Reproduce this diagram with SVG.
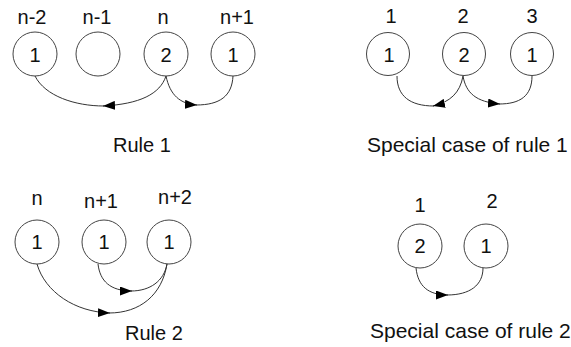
<svg xmlns="http://www.w3.org/2000/svg" width="571" height="347" viewBox="0 0 571 347">
<style>
  .node { fill: #ffffff; stroke: #444444; stroke-width: 1; }
  .t { font-family: "Liberation Sans", Arial, sans-serif; font-size: 20px; fill: #111111; text-anchor: middle; }
  .title { font-family: "Liberation Sans", Arial, sans-serif; font-size: 20px; fill: #111111; }
  .edge { fill: none; stroke: #333333; stroke-width: 1; }
</style>
<defs>
  <marker id="arrow" markerUnits="userSpaceOnUse" markerWidth="13" markerHeight="9" refX="12" refY="4.5" orient="auto">
    <path d="M0,0 L12,4.5 L0,9 z" fill="#000000"/>
  </marker>
</defs>
<rect width="571" height="347" fill="#ffffff"/>

<!-- Rule 1 -->
<g id="r1-n-2"><text class="t" x="32" y="24">n-2</text><circle class="node" cx="35" cy="54" r="22"/><text class="t" x="35" y="62">1</text></g>
<g id="r1-n-1"><text class="t" x="97" y="24">n-1</text><circle class="node" cx="98" cy="54" r="22"/></g>
<g id="r1-n"><text class="t" x="163" y="24">n</text><circle class="node" cx="166" cy="54" r="22"/><text class="t" x="166" y="62">2</text></g>
<g id="r1-n+1"><text class="t" x="237" y="24">n+1</text><circle class="node" cx="233" cy="54" r="22"/><text class="t" x="233" y="62">1</text></g>

<!-- Special case of rule 1 -->
<g id="s1-1"><text class="t" x="391" y="23">1</text><circle class="node" cx="388" cy="54" r="21.5"/><text class="t" x="389" y="62">1</text></g>
<g id="s1-2"><text class="t" x="463" y="23">2</text><circle class="node" cx="464" cy="54" r="21.5"/><text class="t" x="464" y="62">2</text></g>
<g id="s1-3"><text class="t" x="532" y="23">3</text><circle class="node" cx="532" cy="54" r="21.5"/><text class="t" x="532" y="62">1</text></g>

<!-- Rule 2 -->
<g id="r2-n"><text class="t" x="37" y="205">n</text><circle class="node" cx="37" cy="242" r="22"/><text class="t" x="37" y="249">1</text></g>
<g id="r2-n+1"><text class="t" x="101" y="208">n+1</text><circle class="node" cx="104" cy="242" r="22"/><text class="t" x="104" y="249">1</text></g>
<g id="r2-n+2"><text class="t" x="175" y="204">n+2</text><circle class="node" cx="169" cy="242" r="22"/><text class="t" x="169" y="249">1</text></g>

<!-- Special case of rule 2 -->
<g id="s2-1"><text class="t" x="420" y="212">1</text><circle class="node" cx="420" cy="246" r="22"/><text class="t" x="420" y="253">2</text></g>
<g id="s2-2"><text class="t" x="492" y="208">2</text><circle class="node" cx="486" cy="246" r="22"/><text class="t" x="486" y="253">1</text></g>

<g id="connectors">
  <!-- Rule 1 -->
  <path class="edge" d="M35,76 C45,96 75,106 104,106"/>
  <path class="edge" d="M166,76 C160,94 140,104 103,106" marker-end="url(#arrow)"/>
  <path class="edge" d="M166,76 C170,95 180,104 197,105" marker-end="url(#arrow)"/>
  <path class="edge" d="M233,76 C232,96 220,105 196,105"/>
  <!-- Special case of rule 1 -->
  <path class="edge" d="M397,76 C397,96 410,106 434,106"/>
  <path class="edge" d="M463,76 C460,93 450,102 433,106" marker-end="url(#arrow)"/>
  <path class="edge" d="M463,76 C466,93 476,102 500,104" marker-end="url(#arrow)"/>
  <path class="edge" d="M532,76 C532,96 520,104 499,104"/>
  <!-- Rule 2 -->
  <path class="edge" d="M37,264 C45,292 75,312 110,313" marker-end="url(#arrow)"/>
  <path class="edge" d="M109,313 C140,313 162,295 167,264"/>
  <path class="edge" d="M98,264 C100,281 110,291 132,291" marker-end="url(#arrow)"/>
  <path class="edge" d="M131,291 C150,291 164,281 167,264"/>
  <!-- Special case of rule 2 -->
  <path class="edge" d="M416,268 C418,286 428,295 448,295" marker-end="url(#arrow)"/>
  <path class="edge" d="M447,295 C470,295 483,285 483,268"/>
</g>

<text class="title" x="113" y="152">Rule 1</text>
<text class="title" x="367" y="152" style="font-size:21px">Special case of rule 1</text>
<text class="title" x="125" y="340">Rule 2</text>
<text class="title" x="370" y="338" style="font-size:21px">Special case of rule 2</text>
</svg>
